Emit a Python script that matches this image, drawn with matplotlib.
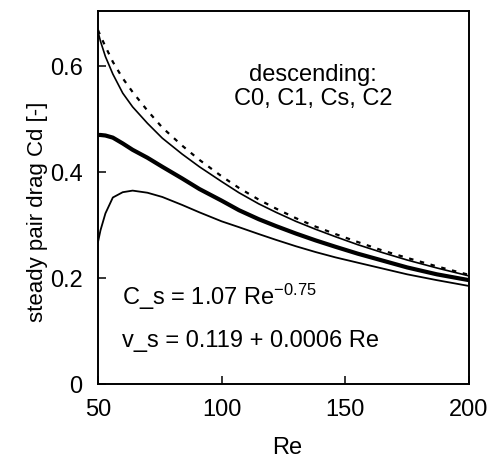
import matplotlib
matplotlib.use('Agg')
import matplotlib.pyplot as plt

plt.rcParams['font.family'] = ['Liberation Sans', 'DejaVu Sans']
plt.rcParams['mathtext.fontset'] = 'custom'
plt.rcParams['mathtext.rm'] = 'Liberation Sans'

# Reynolds numbers sampled along the curves
re = [50, 51, 53, 56, 60, 64, 70, 76, 84, 91, 100, 107, 115, 122, 130, 138,
      146, 155, 165, 175, 187, 200]

# steady pair drag curves
cd_c0 = [0.665, 0.647, 0.618, 0.585, 0.549, 0.523, 0.492, 0.464, 0.434, 0.410,
         0.382, 0.361, 0.340, 0.324, 0.307, 0.292, 0.278, 0.263, 0.248, 0.234,
         0.219, 0.204]
cd_dash = [0.668, 0.657, 0.637, 0.608, 0.577, 0.551, 0.516, 0.484, 0.450, 0.423,
           0.392, 0.370, 0.348, 0.331, 0.313, 0.297, 0.283, 0.268, 0.252, 0.238,
           0.222, 0.206]
cd_thick = [0.470, 0.470, 0.469, 0.465, 0.454, 0.442, 0.427, 0.410, 0.388, 0.368,
            0.346, 0.328, 0.311, 0.298, 0.284, 0.271, 0.259, 0.246, 0.233, 0.220,
            0.207, 0.196]
cd_c2 = [0.268, 0.290, 0.322, 0.352, 0.362, 0.365, 0.361, 0.353, 0.338, 0.324,
         0.307, 0.296, 0.283, 0.272, 0.260, 0.249, 0.239, 0.229, 0.218, 0.207,
         0.196, 0.185]

x_ticks = [50, 100, 150, 200]
y_ticks = [0, 0.2, 0.4, 0.6]
y_labels = ['0', '0.2', '0.4', '0.6']

fig = plt.figure(figsize=(4.91, 4.61), dpi=100)
ax = fig.add_axes([98 / 491, 77 / 461, 371 / 491, 373 / 461])

ax.plot(re, cd_c0, color='black', linewidth=1.2)
ax.plot(re, cd_dash, color='black', linewidth=1.6, linestyle=(0, (2.0, 3.0)))
ax.plot(re, cd_thick, color='black', linewidth=3.0)
ax.plot(re, cd_c2, color='black', linewidth=1.3)

ax.set_xlim(50, 200)
ax.set_ylim(0, 0.704)
ax.set_xticks(x_ticks)
ax.set_yticks(y_ticks)
ax.set_yticklabels(y_labels)
ax.tick_params(direction='in', length=6, width=1.1, labelsize=17, pad=11)
for s in ax.spines.values():
    s.set_linewidth(1.4)

ax.text(137, 0.583, 'descending:', fontsize=17, ha='center', va='center')
ax.text(137, 0.537, 'C0, C1, Cs, C2', fontsize=17, ha='center', va='center')
ax.text(59.7, 0.149, r'C_s = 1.07 Re$\mathregular{^{-0.75}}$', fontsize=17,
        ha='left', va='baseline')
ax.text(59.7, 0.070, 'v_s = 0.119 + 0.0006 Re', fontsize=17,
        ha='left', va='baseline')

fig.text(38 / 491, 1 - 212 / 461, 'steady pair drag Cd [-]', fontsize=16,
         rotation=90, ha='center', va='center')
fig.text(287 / 491, 1 - 448 / 461, 'Re', fontsize=17, ha='center', va='center')

fig.savefig('out.png', dpi=100)
